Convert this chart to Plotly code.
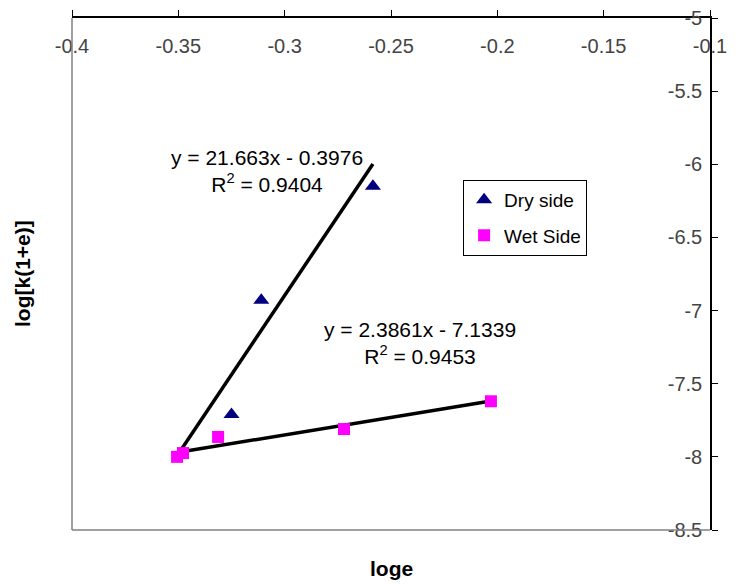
import plotly.graph_objects as go

# Data
dry_x = [-0.349, -0.325, -0.311, -0.2585]
dry_y = [-7.98, -7.71, -6.93, -6.15]
wet_x = [-0.3506, -0.3478, -0.3313, -0.2721, -0.203]
wet_y = [-8.00, -7.974, -7.864, -7.81, -7.62]

# Trend line equations (from chart labels)
dry_slope, dry_intercept = 21.663, -0.3976
wet_slope, wet_intercept = 2.3861, -7.1339

x_ticks = [-0.4, -0.35, -0.3, -0.25, -0.2, -0.15, -0.1]
x_labels = ["-0.4", "-0.35", "-0.3", "-0.25", "-0.2", "-0.15", "-0.1"]
y_ticks = [-5, -5.5, -6, -6.5, -7, -7.5, -8, -8.5]
y_labels = ["-5", "-5.5", "-6", "-6.5", "-7", "-7.5", "-8", "-8.5"]

FONT = "Liberation Sans, Arial, sans-serif"
FS = 20

fig = go.Figure()

# trend lines
dxr = [min(dry_x), max(dry_x)]
wxr = [min(wet_x), max(wet_x)]
fig.add_trace(go.Scatter(x=dxr, y=[dry_slope * v + dry_intercept for v in dxr],
                         mode="lines", line=dict(color="black", width=3.5),
                         showlegend=False, hoverinfo="skip"))
fig.add_trace(go.Scatter(x=wxr, y=[wet_slope * v + wet_intercept for v in wxr],
                         mode="lines", line=dict(color="black", width=3.5),
                         showlegend=False, hoverinfo="skip"))

fig.add_trace(go.Scatter(x=dry_x, y=dry_y, mode="markers", name="Dry side",
                         legendgroup="dry",
                         marker=dict(symbol="triangle-up", size=14, color="#000080")))
fig.add_trace(go.Scatter(x=wet_x, y=wet_y, mode="markers", name="Wet Side",
                         legendgroup="wet",
                         marker=dict(symbol="square", size=12, color="#FF00FF")))

# page body adds an 8px offset, so the figure is 8px smaller on each axis
fig.update_layout(
    width=740, height=576,
    margin=dict(l=64, r=38, t=10, b=54),
    paper_bgcolor="white", plot_bgcolor="white",
    font=dict(family=FONT, size=FS, color="black"),
    legend=dict(x=0.613, y=0.684, xanchor="left", yanchor="top",
                bordercolor="black", borderwidth=1, bgcolor="white",
                font=dict(family=FONT, size=19), itemwidth=30,
                tracegroupgap=8),
    xaxis=dict(range=[-0.4, -0.1], side="top", tickvals=x_ticks, ticktext=x_labels,
               ticks="outside", ticklen=6, tickcolor="black",
               showline=True, linecolor="black", linewidth=1.5,
               showgrid=False, zeroline=False, automargin=False,
               ticklabelposition="inside", ticklabeloverflow="allow",
               ticklabelstandoff=22),
    yaxis=dict(range=[-8.5, -5], side="right", tickvals=y_ticks, ticktext=y_labels,
               ticks="outside", ticklen=6, tickcolor="black",
               showline=True, linecolor="black", linewidth=1.5,
               showgrid=False, zeroline=False, automargin=False,
               ticklabelposition="inside", ticklabeloverflow="allow",
               ticklabelstandoff=9),
    showlegend=True,
)

# gray plot-area border (left and bottom)
fig.add_shape(type="line", xref="x domain", yref="y domain", x0=0, x1=0, y0=0, y1=1,
              line=dict(color="#808080", width=1.5))
fig.add_shape(type="line", xref="x domain", yref="y domain", x0=0, x1=1, y0=0, y1=0,
              line=dict(color="#808080", width=1.5))

# trend equations
fig.add_annotation(x=-0.3084, y=-6.046, xref="x", yref="y", showarrow=False,
                   text="y = 21.663x - 0.3976<br>R<sup>2</sup> = 0.9404",
                   font=dict(family=FONT, size=FS + 1), align="center")
fig.add_annotation(x=-0.2363, y=-7.219, xref="x", yref="y", showarrow=False,
                   text="y = 2.3861x - 7.1339<br>R<sup>2</sup> = 0.9453",
                   font=dict(family=FONT, size=FS + 1), align="center")

# axis titles
fig.add_annotation(x=0.5, y=0, xref="x domain", yref="paper", yanchor="top",
                   yshift=-25, showarrow=False, text="<b>loge</b>",
                   font=dict(family=FONT, size=21))
fig.add_annotation(x=0, y=0.5, xref="paper", yref="y domain", xanchor="center",
                   xshift=-50, showarrow=False, text="<b>log[k(1+e)]</b>",
                   textangle=-90, font=dict(family=FONT, size=21))

fig.write_html("out.html")
